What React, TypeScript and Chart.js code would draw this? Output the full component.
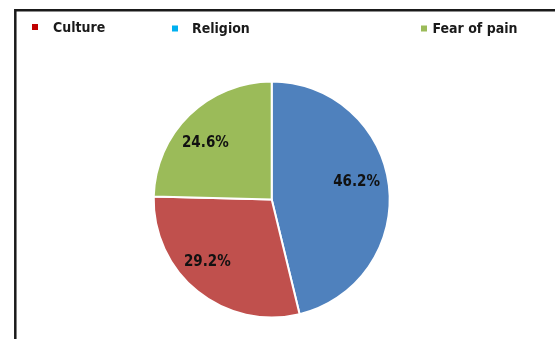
import React, { useEffect, useRef } from "react";
import { Chart, registerables } from "chart.js";

Chart.register(...registerables);

const categories = ["Religion", "Culture", "Fear of pain"];
const percentages = [46.2, 29.2, 24.6];
const sliceColors = ["#4F81BD", "#C0504D", "#9BBB59"];

const legendLabels = ["Culture", "Religion", "Fear of pain"];
const legendColors = ["#C00000", "#00B0F0", "#9BBB59"];

const FONT = '"DejaVu Sans Condensed", "DejaVu Sans", sans-serif';

// layout of the legend row (marker x, text x, baseline y)
const legendLayout = [
  { mx: 32, tx: 53, by: 31.5 },
  { mx: 172, tx: 192, by: 33 },
  { mx: 421, tx: 432.5, by: 33 },
];
// best-fit style label placement: angular nudge (deg) and radius fraction per slice
const labelNudge = [
  { da: -5, rf: 0.735 },
  { da: 7, rf: 0.76 },
  { da: -5.5, rf: 0.736 },
];

const framePlugin = {
  id: "frame",
  beforeDraw(chart: any) {
    const ctx = chart.ctx;
    ctx.save();
    ctx.fillStyle = "#ffffff";
    ctx.fillRect(0, 0, chart.width, chart.height);
    ctx.strokeStyle = "#1a1a1a";
    ctx.lineWidth = 2.5;
    ctx.beginPath();
    ctx.moveTo(15.3, chart.height + 5);
    ctx.lineTo(15.3, 10.3);
    ctx.lineTo(chart.width + 5, 10.3);
    ctx.stroke();
    ctx.restore();
  },
  afterDraw(chart: any) {
    const ctx = chart.ctx;
    ctx.save();
    ctx.font = `bold 14px ${FONT}`;
    ctx.textBaseline = "alphabetic";
    ctx.textAlign = "left";
    legendLabels.forEach((lab, i) => {
      const l = legendLayout[i];
      ctx.fillStyle = legendColors[i];
      ctx.fillRect(l.mx, l.by - 7.5, 6, 6);
      ctx.fillStyle = "#1a1a1a";
      ctx.fillText(lab, l.tx, l.by);
    });
    // data labels
    const meta = chart.getDatasetMeta(0);
    ctx.font = `bold 15px ${FONT}`;
    ctx.textAlign = "center";
    ctx.textBaseline = "middle";
    ctx.fillStyle = "#111111";
    meta.data.forEach((arc: any, i: number) => {
      const p = arc.getProps(["x", "y", "startAngle", "endAngle", "outerRadius"], true);
      const n = labelNudge[i];
      const mid = (p.startAngle + p.endAngle) / 2 + (n.da * Math.PI) / 180;
      const r = p.outerRadius * n.rf;
      const x = p.x + Math.cos(mid) * r;
      const y = p.y + Math.sin(mid) * r;
      ctx.fillText(percentages[i].toFixed(1) + "%", x, y);
    });
    ctx.restore();
  },
};

export default function App() {
  const ref = useRef<HTMLCanvasElement | null>(null);
  useEffect(() => {
    if (!ref.current) return;
    const chart = new Chart(ref.current, {
      type: "pie",
      data: {
        labels: categories,
        datasets: [
          {
            data: percentages,
            backgroundColor: sliceColors,
            borderColor: "#ffffff",
            borderWidth: 2,
          },
        ],
      },
      options: {
        responsive: false,
        animation: false,
        layout: { padding: { left: 0, right: 11.6, top: 80.5, bottom: 20.5 } },
        plugins: {
          legend: { display: false },
          tooltip: { enabled: false },
        },
      },
      plugins: [framePlugin],
    });
    return () => chart.destroy();
  }, []);
  return (
    <div style={{ position: "absolute", left: 0, top: 0, width: 555, height: 339, overflow: "hidden", background: "#fff" }}>
      <canvas ref={ref} width={555} height={339} style={{ display: "block" }} />
    </div>
  );
}
